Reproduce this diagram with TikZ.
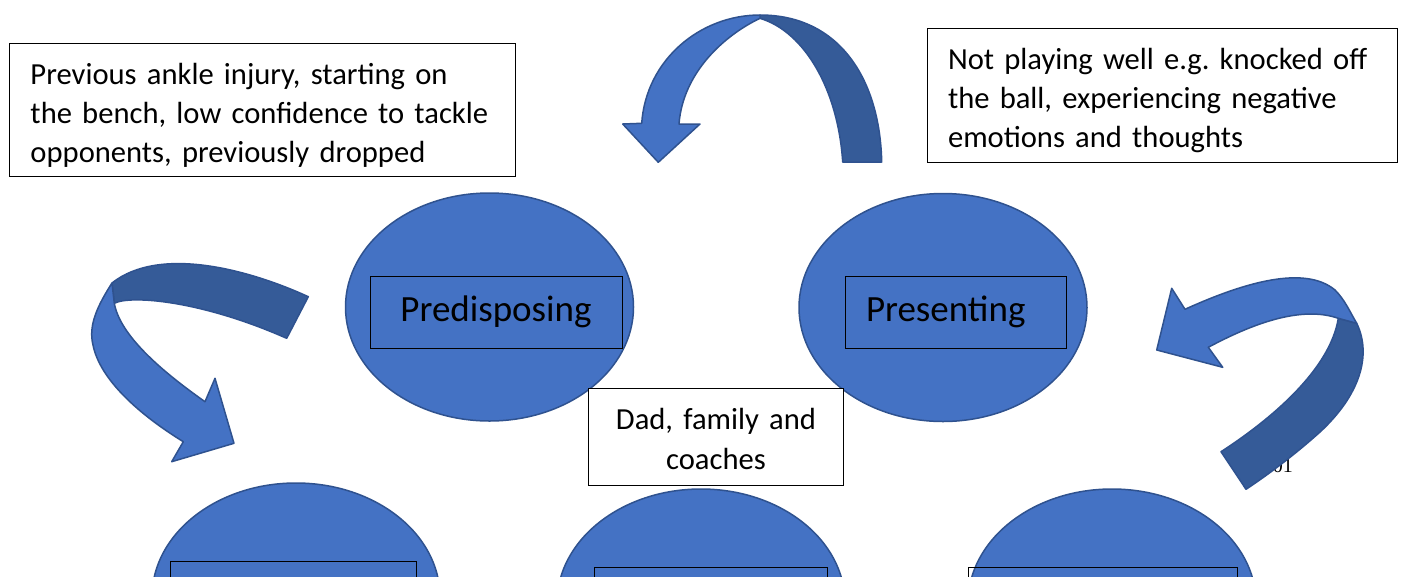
\documentclass[tikz,border=0pt]{standalone}
\usepackage{fontspec}
\setmainfont{Carlito}
\newfontfamily\numfont{Liberation Serif}
\usetikzlibrary{shapes.geometric}
\definecolor{ofblue}{RGB}{68,114,196}
\definecolor{ofdark}{RGB}{53,91,152}
\definecolor{ofline}{RGB}{47,82,143}
\frenchspacing
\begin{document}
\begin{tikzpicture}[x=1pt,y=-1pt,
  blob/.style={ellipse, fill=ofblue, draw=ofline, line width=1.5pt, inner sep=0,
    minimum width=288, minimum height=228},
  lab/.style={draw=black, line width=1pt, inner sep=0, minimum height=72,
    font=\fontsize{37}{44}\selectfont},
  note/.style={draw=black, fill=white, line width=1pt, inner ysep=0, align=left,
    anchor=north west, font=\fontsize{30.6}{39}\selectfont},
  arrlight/.style={fill=ofblue, draw=ofline, line width=1.5pt, line join=round},
  arrdark/.style={fill=ofdark, draw=ofline, line width=1.5pt, line join=round}]
\useasboundingbox (0,0) rectangle (1402,576);
\clip (0,0) rectangle (1402,576);

% ellipses
\node[blob] (pred) at (489.5,307) {};
\node[blob] (pres) at (943,307.5) {};
\node[blob] (bl) at (296,597) {};
\node[blob] (bm) at (701,603) {};
\node[blob] (br) at (1112,603) {};

% labels inside ellipses
\node[lab, minimum width=252] (predbox) at (496,312) {Predisposing};
\node[lab, minimum width=221, text width=179, inner xsep=21, align=left] (presbox) at (955.5,312) {Presenting};
\node[lab, minimum width=246] (blbox) at (293,597) {};
\node[lab, minimum width=233] (bmbox) at (710.5,603) {};
\node[lab, minimum width=269] (brbox) at (1102.5,603) {};

% text boxes
\node[note, minimum width=504, minimum height=133, text width=464, inner xsep=21] (tl) at (9,43)
  {\rule{0pt}{32pt}\mbox{Previous ankle injury, starting on}\\\mbox{the bench, low confidence to tackle}\\\mbox{opponents, previously dropped}};
\node[note, minimum width=470, minimum height=134, text width=429, inner xsep=20.5] (tr) at (927,28)
  {\rule{0pt}{32pt}\mbox{Not playing well e.g. knocked off}\\\mbox{the ball, experiencing negative}\\\mbox{emotions and thoughts}};
\node[note, minimum width=255, minimum height=97, text width=235, inner xsep=10, align=center,
  font=\fontsize{30.6}{40}\selectfont] (dad) at (588,388)
  {\rule{0pt}{26pt}Dad, family and\\coaches};

% stray page number under the right arrow
\node[anchor=base east, inner sep=0, font=\numfont\fontsize{20}{24}\selectfont] (pagenum) at (1293,472) {01};

% top arrow
\draw[arrdark] (760,15) .. controls (840,15) and (880,80) .. (881.7,162)
  -- (842.7,162) .. controls (838,90) and (805,32) .. (760,18.3) -- cycle;
\draw[arrlight] (641.7,123.3) .. controls (646,60) and (700,15) .. (760,15)
  -- (760,18.3) .. controls (725,35) and (683,72) .. (679,124)
  -- (700,124) -- (658.3,162.3) -- (622.7,124) -- cycle;

% left arrow
\draw[arrdark] (308.3,296.7) .. controls (250,270) and (160,245) .. (112,283)
  -- (114.3,303.3) .. controls (130,295) and (200,300) .. (286.7,338.3) -- cycle;
\draw[arrlight] (112,283) .. controls (98,305) and (88,325) .. (93,345)
  .. controls (100,380) and (140,415) .. (183.3,441.7)
  -- (171.7,461.7) -- (234,443.3) -- (215,378.3) -- (205,401.7)
  .. controls (160,370) and (120,335) .. (114.3,303.3) -- cycle;

% right arrow
\draw[arrdark] (1356.7,323.3) .. controls (1372,355) and (1360,395) .. (1320,432)
  .. controls (1300,450) and (1275,470) .. (1246,489.3)
  -- (1221,451.7) .. controls (1270,420) and (1330,370) .. (1338.3,318.3) -- cycle;
\draw[arrlight] (1185,309.3) .. controls (1245,282) and (1305,265) .. (1335,290)
  .. controls (1345,300) and (1350,312) .. (1356.7,323.3)
  -- (1338.3,318.3) .. controls (1300,305) and (1250,325) .. (1208.3,347.3)
  -- (1222.7,367.3) -- (1156.7,350) -- (1171.7,288.3) -- cycle;
\end{tikzpicture}
\end{document}
